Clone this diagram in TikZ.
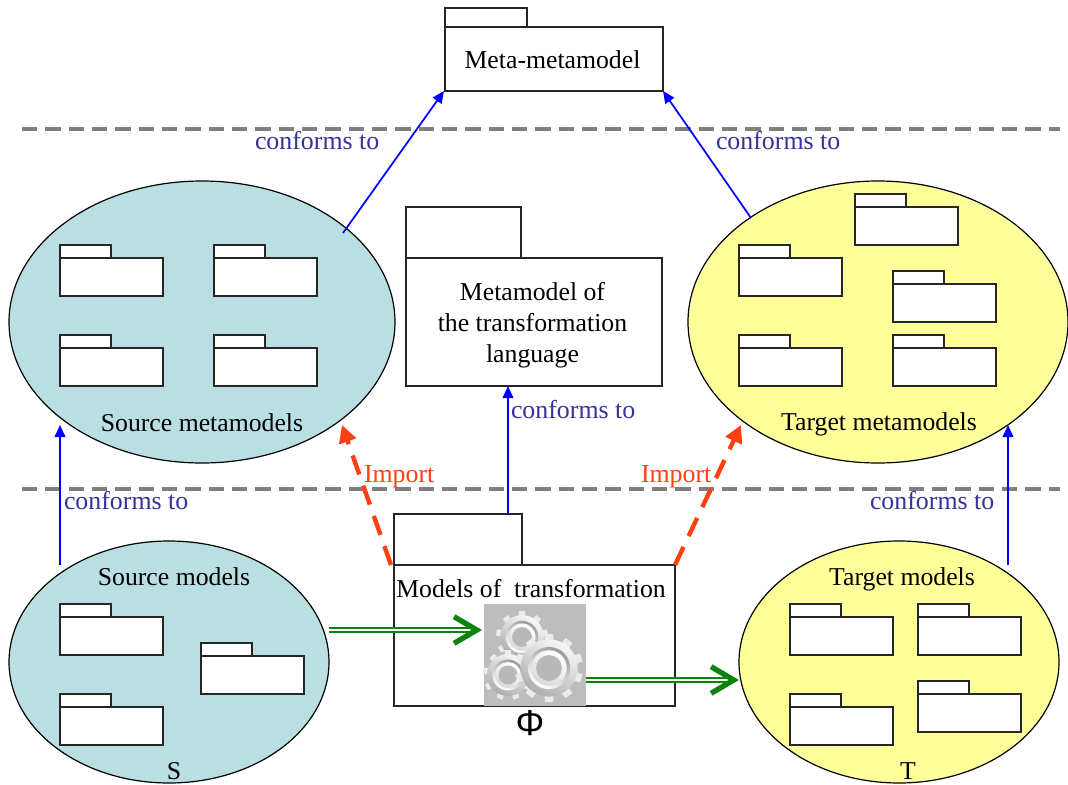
\documentclass[tikz,border=0pt]{standalone}
\usepackage{fontspec}
\setmainfont{Liberation Serif}
\newfontfamily\phifont{Liberation Sans}
\usetikzlibrary{shapes.geometric,arrows.meta,shadings}
\definecolor{srcfill}{HTML}{B9DFE3}
\definecolor{tgtfill}{HTML}{FFFF99}
\definecolor{confcol}{HTML}{333399}
\definecolor{impcol}{HTML}{FF4010}
\definecolor{flowcol}{HTML}{0A840A}
\definecolor{iconbg}{HTML}{BDBDBD}
\tikzset{
  x=0.75pt,y=-0.75pt,
  every node/.style={inner sep=0pt,outer sep=0pt},
  txt/.style={font=\fontsize{19.3}{23}\selectfont,text=black},
  conf/.style={font=\fontsize{19.4}{23}\selectfont,text=confcol,anchor=west},
  imp/.style={font=\fontsize{19.4}{23}\selectfont,text=impcol,anchor=west},
  ell/.style={ellipse,draw=black,line width=0.9pt},
  bodybox/.style={rectangle,draw=black!85,fill=white,line width=1pt,anchor=north west},
  conforms/.style={draw=blue,line width=1.3pt,-{Triangle[length=9pt,width=8pt]}},
  importarrow/.style={draw=impcol,line width=3.3pt,dash pattern=on 15pt off 9pt,-{Triangle[length=13pt,width=13pt]}},
  flowline/.style={draw=flowcol,line width=1.5pt,double=white,double distance=1pt},
  flowtip/.style={draw=flowcol,line width=0.01pt,-{Straight Barb[length=17pt,width=20pt,line width=4pt]}},
  sepline/.style={draw=black!50,line width=2.4pt,dash pattern=on 11.5pt off 6pt},
}
% name, x, body top, tab width, body height, body width, tab height
\newcommand{\pkgbox}[7]{%
  \node[bodybox,minimum width=#4*0.75pt,minimum height=#7*0.75pt] (#1-tab) at (#2,#3-#7) {};
  \node[bodybox,minimum width=#6*0.75pt,minimum height=#5*0.75pt] (#1) at (#2,#3) {};
}
\newcommand{\smallpkg}[3]{\pkgbox{#1}{#2}{#3}{51}{38}{103}{13}}
% cx, cy, radius, teeth
\newcommand{\geardraw}[4]{%
  \pgfmathsetmacro{\gearstep}{360/#4}
  \foreach \ga in {0,\gearstep,...,359.9}{
    \fill[black!8,rotate around={\ga:(#1,#2)}]
      (#1-0.19*#3,#2) -- (#1-0.12*#3,#2-#3) -- (#1+0.12*#3,#2-#3) -- (#1+0.19*#3,#2) -- cycle;
  }
  \shade[left color=black!3,right color=black!32,shading angle=-30] (#1,#2) circle[radius=0.84*#3];
  \shade[left color=black!40,right color=white,shading angle=-30] (#1,#2) circle[radius=0.62*#3];
  \shade[left color=white,right color=black!15,shading angle=-30] (#1,#2) circle[radius=0.52*#3];
  \fill[black!28] (#1,#2) circle[radius=0.38*#3];
}
\begin{document}
\begin{tikzpicture}
\useasboundingbox (0,0) rectangle (1068,785);
\fill[white] (0,0) rectangle (1068,785);

% level separators
\coordinate (la) at (22,129); \coordinate (lb) at (1060,129);
\coordinate (lc) at (22,489); \coordinate (ld) at (1060,489);
\draw[sepline] (la) -- (lb);
\draw[sepline] (lc) -- (ld);

% ellipses
\node[ell,fill=srcfill,minimum width=289.5pt,minimum height=211.5pt] (srcmeta) at (202,322) {};
\node[ell,fill=tgtfill,minimum width=285pt,minimum height=211.5pt] (tgtmeta) at (878,322) {};
\node[ell,fill=srcfill,minimum width=240pt,minimum height=181.5pt] (srcmod) at (169,662) {};
\node[ell,fill=tgtfill,minimum width=240pt,minimum height=181.5pt] (tgtmod) at (899,662) {};

% big packages
\pkgbox{meta}{445}{27}{82}{64}{218}{19}
\pkgbox{lang}{406}{258}{115}{128}{256}{51}
\pkgbox{trans}{394}{565}{128}{141}{281}{51}

% small packages
\smallpkg{sa}{60}{258}
\smallpkg{sb}{214}{258}
\smallpkg{sc}{60}{348}
\smallpkg{sd}{214}{348}
\smallpkg{ta}{739}{258}
\smallpkg{tb}{855}{207}
\smallpkg{tc}{893}{284}
\smallpkg{td}{739}{348}
\smallpkg{te}{893}{348}
\smallpkg{ma}{60}{617}
\smallpkg{mb}{201}{656}
\smallpkg{mc}{60}{707}
\smallpkg{na}{790}{617}
\smallpkg{nb}{918}{617}
\smallpkg{nc}{790}{707}
\smallpkg{nd}{918}{694}

% gear icon
\node[rectangle,fill=iconbg,anchor=north west,minimum width=76.5pt,minimum height=76.5pt] (icon) at (484,604) {};
\geardraw{522}{637}{26}{9}
\geardraw{508}{675}{25}{9}
\geardraw{549}{668}{34}{10}

% texts
\node[txt] (t-meta) at (552.5,60) {Meta-metamodel};
\node[txt,align=center,font=\fontsize{19.3}{23.2}\selectfont] (t-lang) at (532.5,325) {Metamodel of\\the transformation\\language};
\node[txt] (t-trans) at (531,589) {Models of\ \ transformation};
\node[txt] (t-sm) at (202,423) {Source metamodels};
\node[txt] (t-tm) at (879,424) {Target metamodels};
\node[txt] (t-smod) at (174,577) {Source models};
\node[txt] (t-tmod) at (902,579) {Target models};
\node[txt] (t-s) at (174,771) {S};
\node[txt] (t-t) at (908,771) {T};
\node[font=\phifont\fontsize{27}{30}\selectfont] (t-phi) at (530,723) {Φ};

% connector ends
\coordinate (a1) at (343,233); \coordinate (a1e) at (444,91);
\coordinate (a2) at (751,218); \coordinate (a2e) at (663,91);
\coordinate (a3) at (508,514); \coordinate (a3e) at (508,386);
\coordinate (a4) at (60,565);  \coordinate (a4e) at (60,425);
\coordinate (a5) at (1008,565); \coordinate (a5e) at (1008,425);
\coordinate (i1) at (391,565); \coordinate (i1e) at (342,425);
\coordinate (i2) at (675,565); \coordinate (i2e) at (741,425);
\coordinate (f1) at (329,630); \coordinate (f1m) at (476,630); \coordinate (f1e) at (482,630);
\coordinate (f2) at (586,680); \coordinate (f2m) at (733,680); \coordinate (f2e) at (739,680);

\draw[conforms] (a1) -- (a1e);
\draw[conforms] (a2) -- (a2e);
\draw[conforms] (a3) -- (a3e);
\draw[conforms] (a4) -- (a4e);
\draw[conforms] (a5) -- (a5e);
\draw[importarrow] (i1) -- (i1e);
\draw[importarrow] (i2) -- (i2e);
\draw[flowline] (f1) -- (f1m);
\draw[flowtip] (f1m) -- (f1e);
\draw[flowline] (f2) -- (f2m);
\draw[flowtip] (f2m) -- (f2e);

% labels
\node[conf] (c1) at (255,141) {conforms to};
\node[conf] (c2) at (716,141) {conforms to};
\node[conf] (c3) at (511,410) {conforms to};
\node[conf] (c4) at (64,501) {conforms to};
\node[conf] (c5) at (870,501) {conforms to};
\node[imp] (i-a) at (364,477) {Import};
\node[imp] (i-b) at (641,477) {Import};
\end{tikzpicture}
\end{document}
